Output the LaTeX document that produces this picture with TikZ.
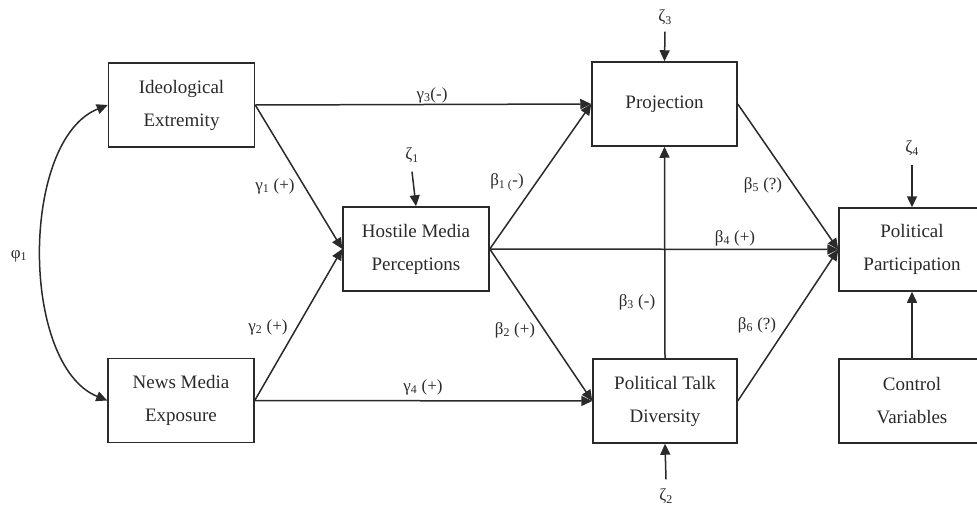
\documentclass[tikz,border=0pt]{standalone}
\usepackage{fontspec}
\setmainfont{Liberation Serif}
\usetikzlibrary{arrows.meta}
\tikzset{
  box/.style={draw=linec, line width=1.5pt, inner sep=0pt, align=center,
    minimum width=146pt, minimum height=84pt, text=textc,
    font=\fontsize{19}{33}\selectfont},
  lab/.style={inner sep=1pt, text=textc, font=\fontsize{17}{20}\selectfont},
  arr/.style={draw=linec, line width=1.5pt, -{Triangle[length=11pt,width=10pt]}},
  arrboth/.style={draw=linec, line width=1.5pt, {Triangle[length=11pt,width=10pt]}-{Triangle[length=11pt,width=10pt]}}
}
\definecolor{linec}{HTML}{2A2A2A}
\definecolor{textc}{HTML}{2A2A2A}
\begin{document}
\begin{tikzpicture}[x=1pt,y=-1pt]
\clip (0,0) rectangle (977,506);
\fill[white] (0,0) rectangle (977,506);
% boxes
\node[box] (ideo) at (181.5,105) {Ideological\\Extremity};
\node[box] (news) at (181,400.5) {News Media\\Exposure};
\node[box] (hos) at (416,249) {Hostile Media\\Perceptions};
\node[box, minimum width=145pt] (proj) at (664.5,104) {Projection};
\node[box, minimum width=144pt] (ptd) at (665,401) {Political Talk\\Diversity};
\node[box, minimum height=83pt] (part) at (912,249.5) {Political\\Participation};
\node[box] (ctrl) at (912,401) {Control\\Variables};
% error terms
\node[lab] (z1) at (412,155) {ζ\textsubscript{1}};
\node[lab] (z3) at (665,17) {ζ\textsubscript{3}};
\node[lab] (z4) at (912,148) {ζ\textsubscript{4}};
\node[lab] (z2) at (666,496) {ζ\textsubscript{2}};
\node[lab] (phi) at (19,256) {φ\textsubscript{1}};
\draw[arr] ([yshift=-8pt]z1.south) -- (hos.north);
\draw[arr] ([yshift=-6pt]z3.south) -- (proj.north);
\draw[arr] ([yshift=-8pt]z4.south) -- (part.north);
\draw[arr] ([yshift=8pt]z2.north) -- (ptd.south);
% covariance
\draw[arrboth] (ideo.west) .. controls (20,140) and (20,365) .. (news.west);
% paths
\draw[arr] (ideo.east) -- (proj.west);
\draw[arr] (ideo.east) -- (hos.west);
\draw[arr] (news.east) -- (hos.west);
\draw[arr] (news.east) -- (ptd.west);
\draw[arr] (hos.east) -- (proj.west);
\draw[arr] (hos.east) -- (part.west);
\draw[arr] (hos.east) -- (ptd.west);
\draw[arr] (ptd.north) -- (proj.south);
\draw[arr] (proj.east) -- (part.west);
\draw[arr] (ptd.east) -- (part.west);
\draw[arr] (ctrl.north) -- (part.south);
% labels
\node[lab] (lg3) at (432,95) {γ\textsubscript{3}(-)};
\node[lab] (lg1) at (275,186) {γ\textsubscript{1} (+)};
\node[lab] (lg2) at (268,327) {γ\textsubscript{2} (+)};
\node[lab] (lg4) at (423,387) {γ\textsubscript{4} (+)};
\node[lab] (lb1) at (507,182) {β\textsubscript{1 (}-)};
\node[lab] (lb2) at (515,330) {β\textsubscript{2} (+)};
\node[lab] (lb3) at (637,302) {β\textsubscript{3} (-)};
\node[lab] (lb4) at (735,238) {β\textsubscript{4} (+)};
\node[lab] (lb5) at (763,185) {β\textsubscript{5} (?)};
\node[lab] (lb6) at (757,325) {β\textsubscript{6} (?)};
\end{tikzpicture}
\end{document}
